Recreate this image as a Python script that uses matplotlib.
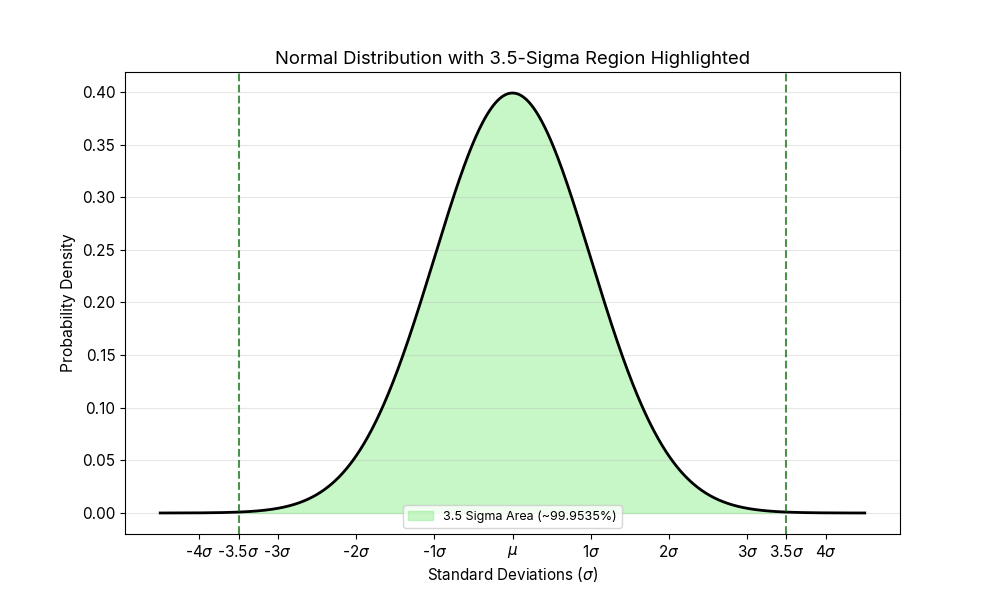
import numpy as np
import matplotlib.pyplot as plt

plt.rcParams['font.family'] = ['Inter', 'DejaVu Sans']
plt.rcParams['mathtext.fontset'] = 'dejavusans'

x_min, x_max = -4.5, 4.5
sigma_k = 3.5
tick_pos = [-4, -3.5, -3, -2, -1, 0, 1, 2, 3, 3.5, 4]
tick_labels = [r'-4$\sigma$', r'-3.5$\sigma$', r'-3$\sigma$', r'-2$\sigma$', r'-1$\sigma$',
               r'$\mu$', r'1$\sigma$', r'2$\sigma$', r'3$\sigma$', r'3.5$\sigma$', r'4$\sigma$']
area_label = '3.5 Sigma Area (~99.9535%)'

x = np.linspace(x_min, x_max, 1000)
y = np.exp(-x**2 / 2) / np.sqrt(2 * np.pi)

fig, ax = plt.subplots(figsize=(10, 6), dpi=100)
ax.plot(x, y, color='black', lw=2)
mask = (x >= -sigma_k) & (x <= sigma_k)
ax.fill_between(x[mask], y[mask], color='lightgreen', alpha=0.5, label=area_label)
ax.axvline(-sigma_k, color='darkgreen', ls='--', alpha=0.7, lw=1.5)
ax.axvline(sigma_k, color='darkgreen', ls='--', alpha=0.7, lw=1.5)

ax.set_xticks(tick_pos)
ax.set_xticklabels(tick_labels, fontsize=11)
ax.tick_params(axis='y', labelsize=11)
ax.set_title('Normal Distribution with 3.5-Sigma Region Highlighted', fontsize=13.3)
ax.set_xlabel(r'Standard Deviations ($\sigma$)', fontsize=11)
ax.set_ylabel('Probability Density', fontsize=11.3)
ax.grid(axis='y', alpha=0.3)
ax.legend(loc='lower center', fontsize=9)

fig.savefig('out.png')
